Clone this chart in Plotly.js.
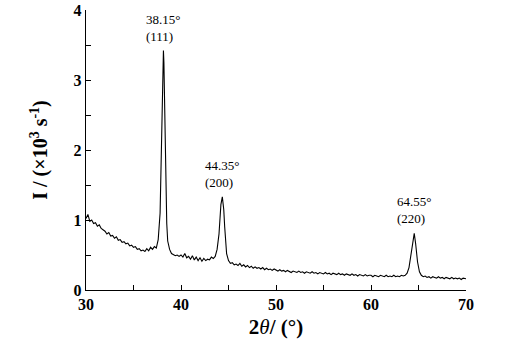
<!DOCTYPE html>
<html>
<head>
<meta charset="utf-8">
<script src="https://cdn.plot.ly/plotly-3.0.1.min.js"></script>
<style>html,body{margin:0;padding:0;background:#fff}#chart{width:509px;height:349px}</style>
</head>
<body>
<div id="chart"></div>
<script>
const twoTheta = [
30.0,30.2,30.4,30.6,30.8,31.0,31.2,31.4,31.6,31.8,32.0,32.2,32.4,32.6,32.8,33.0,33.2,33.4,33.6,33.8,
34.0,34.2,34.4,34.6,34.8,35.0,35.2,35.4,35.6,35.8,36.0,36.2,36.4,36.6,36.8,37.0,37.2,37.4,37.6,37.8,
37.9,38.0,38.1,38.15,38.2,38.3,38.4,38.5,38.6,38.8,39.0,39.2,39.4,39.6,39.8,40.0,40.2,40.4,40.6,40.8,
41.0,41.2,41.4,41.6,41.8,42.0,42.2,42.4,42.6,42.8,43.0,43.2,43.4,43.6,43.8,44.0,44.1,44.2,44.35,44.5,
44.6,44.7,44.8,45.0,45.2,45.4,45.6,45.8,46.0,46.2,46.4,46.6,46.8,47.0,47.2,47.4,47.6,47.8,48.0,48.2,
48.4,48.6,48.8,49.0,49.2,49.4,49.6,49.8,50.0,50.2,50.4,50.6,50.8,51.0,51.2,51.4,51.6,51.8,52.0,52.2,
52.4,52.6,52.8,53.0,53.2,53.4,53.6,53.8,54.0,54.2,54.4,54.6,54.8,55.0,55.2,55.4,55.6,55.8,56.0,56.2,
56.4,56.6,56.8,57.0,57.2,57.4,57.6,57.8,58.0,58.2,58.4,58.6,58.8,59.0,59.2,59.4,59.6,59.8,60.0,60.2,
60.4,60.6,60.8,61.0,61.2,61.4,61.6,61.8,62.0,62.2,62.4,62.6,62.8,63.0,63.2,63.4,63.6,63.8,64.0,64.2,
64.4,64.55,64.7,64.9,65.1,65.3,65.5,65.7,65.9,66.1,66.3,66.5,66.7,66.9,67.1,67.3,67.5,67.7,67.9,68.1,
68.3,68.5,68.7,68.9,69.1,69.3,69.5,69.7,69.9,70.0
];
const intensity = [
1.02,1.08,0.98,1.00,0.95,0.96,0.91,0.93,0.88,0.86,0.84,0.80,0.82,0.77,0.78,0.74,0.76,0.71,0.72,0.68,
0.69,0.66,0.67,0.63,0.64,0.61,0.62,0.58,0.59,0.56,0.57,0.55,0.59,0.56,0.61,0.58,0.62,0.60,0.72,1.10,
1.80,2.70,3.30,3.42,3.25,2.40,1.50,0.95,0.70,0.58,0.52,0.50,0.49,0.50,0.48,0.50,0.47,0.52,0.46,0.48,
0.44,0.49,0.43,0.47,0.42,0.46,0.41,0.45,0.42,0.44,0.43,0.47,0.45,0.48,0.58,0.80,1.00,1.22,1.33,1.15,
0.90,0.68,0.52,0.42,0.38,0.39,0.36,0.37,0.35,0.38,0.34,0.36,0.33,0.35,0.32,0.34,0.31,0.33,0.31,0.32,
0.30,0.32,0.29,0.31,0.29,0.30,0.28,0.30,0.29,0.27,0.29,0.27,0.28,0.26,0.28,0.27,0.25,0.27,0.26,0.25,
0.27,0.25,0.26,0.24,0.26,0.25,0.24,0.26,0.24,0.25,0.23,0.25,0.24,0.23,0.25,0.23,0.24,0.22,0.24,0.23,
0.22,0.24,0.22,0.23,0.21,0.23,0.22,0.21,0.23,0.21,0.22,0.20,0.22,0.21,0.20,0.22,0.20,0.21,0.21,0.19,
0.21,0.20,0.19,0.21,0.20,0.19,0.21,0.19,0.20,0.19,0.21,0.19,0.20,0.19,0.21,0.20,0.21,0.24,0.32,0.50,
0.74,0.81,0.66,0.40,0.26,0.21,0.19,0.20,0.18,0.19,0.17,0.19,0.18,0.17,0.19,0.17,0.18,0.16,0.18,0.17,
0.16,0.18,0.16,0.17,0.16,0.17,0.15,0.17,0.16,0.16
];
const peakPos = [38.15, 44.35, 64.55];
const peakHeight = [3.42, 1.33, 0.81];
const peakLabels = ["38.15°<br>(111)", "44.35°<br>(200)", "64.55°<br>(220)"];

const serif = '"Liberation Serif", "DejaVu Serif", serif';

const annotations = peakPos.map((p, i) => ({
  x: p, y: peakHeight[i], xref: 'x', yref: 'y',
  text: peakLabels[i], showarrow: false,
  xanchor: 'center', yanchor: 'bottom', yshift: 5,
  font: {family: serif, size: 13, color: '#000'},
  align: 'left'
}));

const trace = {
  x: twoTheta, y: intensity, type: 'scatter', mode: 'lines',
  line: {color: '#000', width: 1.1}, hoverinfo: 'skip'
};

const layout = {
  width: 509, height: 349,
  margin: {l: 86, r: 43, t: 10, b: 59},
  paper_bgcolor: '#fff', plot_bgcolor: '#fff',
  showlegend: false,
  font: {family: serif, color: '#000'},
  xaxis: {
    range: [30, 70], dtick: 10, tick0: 30,
    showline: true, linecolor: '#000', linewidth: 1.2,
    ticks: 'inside', ticklen: 5, tickwidth: 1, tickcolor: '#000',
    minor: {dtick: 5, ticks: 'inside', ticklen: 5, tickcolor: '#000'},
    showgrid: false, zeroline: false,
    tickfont: {family: serif, size: 16, color: '#000', weight: 'bold'},
    title: {text: '<b>2</b><i>θ</i><b>/ (°)</b>', font: {family: serif, size: 21, color: '#000'}, standoff: 6}
  },
  yaxis: {
    range: [0, 4], dtick: 1,
    showline: true, linecolor: '#000', linewidth: 1.2,
    ticks: 'inside', ticklen: 5, tickwidth: 1, tickcolor: '#000',
    minor: {dtick: 0.5, ticks: 'inside', ticklen: 5, tickcolor: '#000'},
    showgrid: false, zeroline: false,
    tickfont: {family: serif, size: 16, color: '#000', weight: 'bold'},
    title: {text: '<b>I / (×10<sup>3</sup> s<sup>-1</sup>)</b>', font: {family: serif, size: 20, color: '#000'}, standoff: 20}
  },
  annotations: annotations
};

Plotly.newPlot('chart', [trace], layout, {displayModeBar: false, staticPlot: true});
</script>
</body>
</html>
